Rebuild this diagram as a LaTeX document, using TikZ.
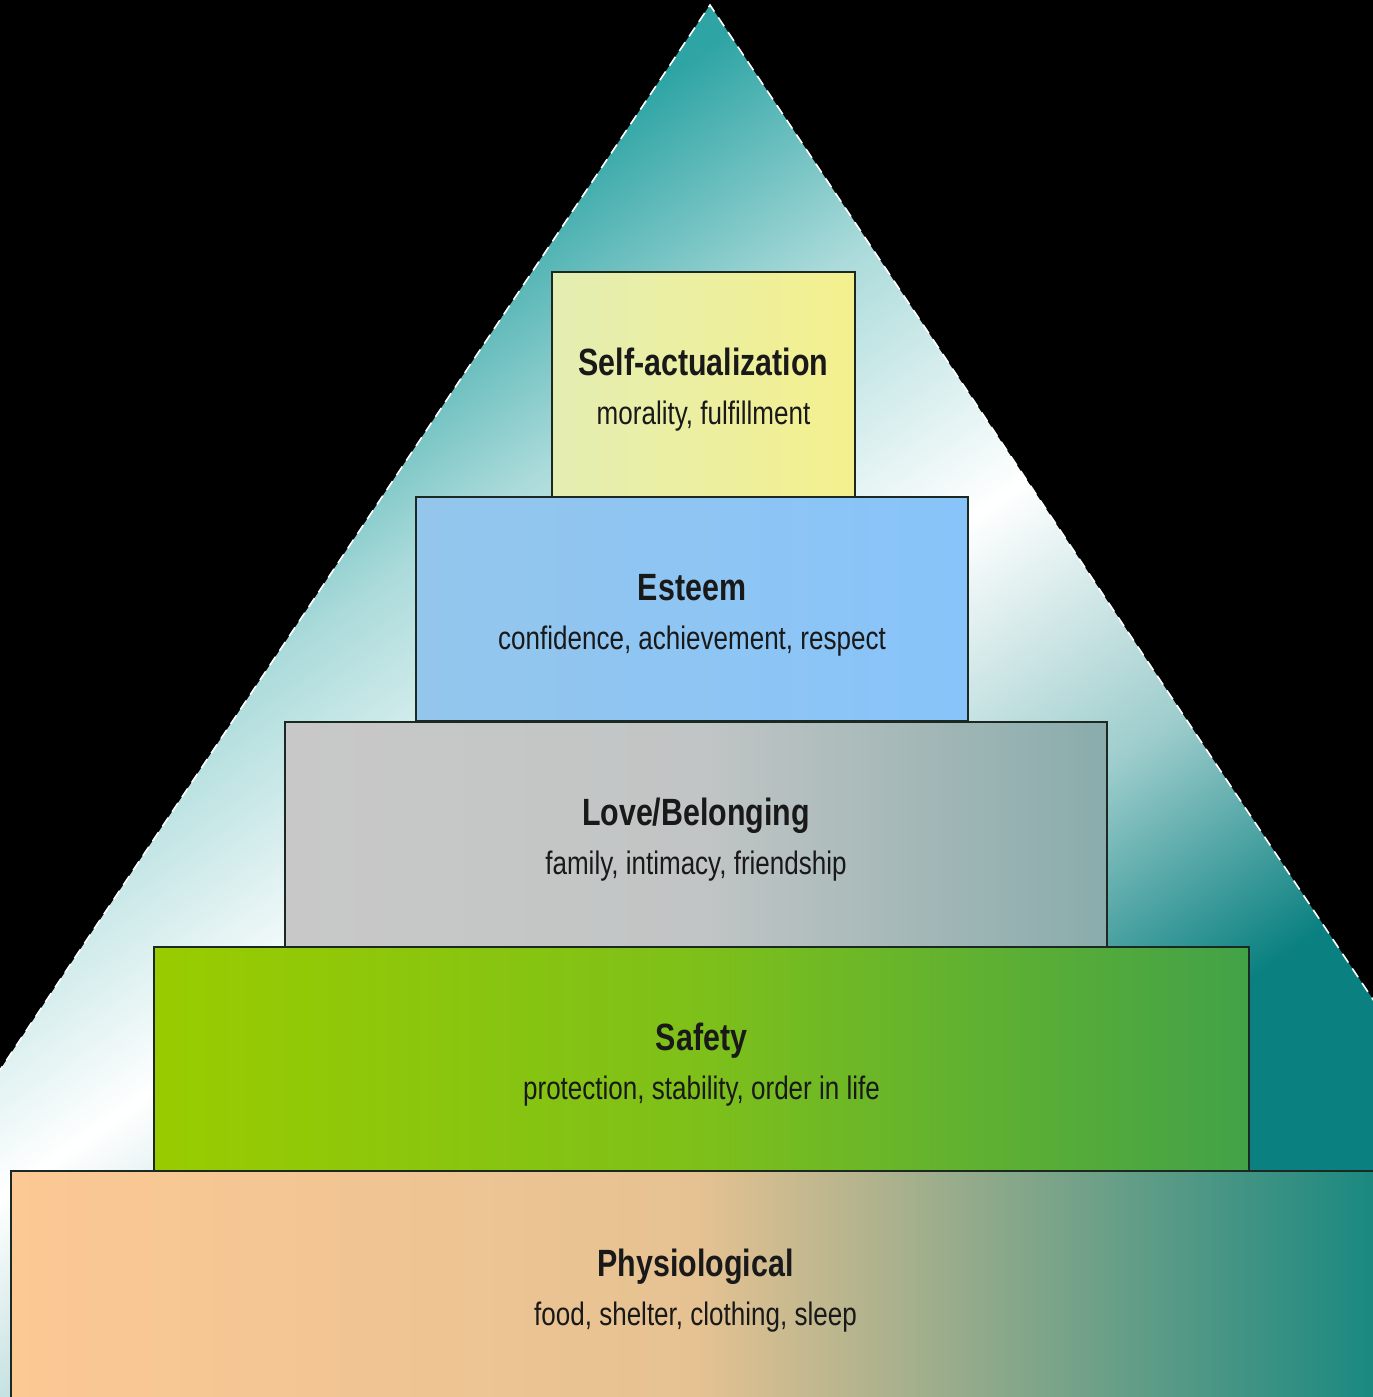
\documentclass[tikz,border=0pt]{standalone}
\usepackage{fontspec}
\usepackage{xcolor}
\usepackage{tikz}
\usetikzlibrary{backgrounds}
\newfontfamily\pyrfont[FakeStretch=0.8]{Liberation Sans}
\definecolor{tealtop}{RGB}{46,164,164}
\definecolor{tealbot}{RGB}{10,128,128}
\definecolor{selfA}{RGB}{228,238,178}
\definecolor{selfB}{RGB}{244,240,142}
\definecolor{esteemA}{RGB}{148,198,236}
\definecolor{esteemB}{RGB}{136,196,250}
\definecolor{loveA}{RGB}{200,200,200}
\definecolor{loveM}{RGB}{194,197,197}
\definecolor{loveB}{RGB}{138,172,172}
\definecolor{safeA}{RGB}{153,204,0}
\definecolor{safeM}{RGB}{126,192,26}
\definecolor{safeB}{RGB}{66,162,72}
\definecolor{physA}{RGB}{252,200,148}
\definecolor{physM}{RGB}{230,194,146}
\definecolor{physB}{RGB}{24,136,128}
\definecolor{edge}{RGB}{28,40,34}
\pgfdeclareverticalshading{pyrbg}{100bp}{color(0bp)=(tealbot); color(33bp)=(tealbot); color(41bp)=(tealbot!40!white); color(50bp)=(white); color(59bp)=(tealtop!40!white); color(67bp)=(tealtop); color(100bp)=(tealtop)}
\tikzstyle{level} = [rectangle, draw=edge, line width=0.6pt, align=center, text=black!90, font=\pyrfont, inner sep=0pt]
\newcommand{\lvltext}[2]{{\fontsize{10.8}{13}\selectfont\bfseries\rule{0pt}{10.9pt}#1}\\[2.0pt]{\fontsize{9.25}{11}\selectfont #2}}

\begin{document}
\begin{tikzpicture}
    [x=0.01cm,y=0.01cm]
      \useasboundingbox (0,0) rectangle (1373,1397);
      \fill [black] (0,0) rectangle (1373,1397);
      \coordinate (apex) at (710,1392);
      \coordinate (bl) at (-218,0);
      \coordinate (br) at (1638,0);
      \begin{scope}
        \clip (0,0) rectangle (1373,1397);
        \shade [shading=pyrbg, shading angle=35] (apex) -- (bl) -- (br) -- cycle;
        \draw [white, densely dashed, line width=0.45pt] (bl) -- (apex) -- (br);
      \end{scope}

      \node [level, left color=selfA, right color=selfB, minimum width=3.03cm, minimum height=2.25cm](self) at (703.5,1012.5) {\lvltext{Self-actualization}{morality, fulfillment}};
      \node [level, left color=esteemA, right color=esteemB, minimum width=5.51cm, minimum height=2.24cm](esteem) at (692,788) {\lvltext{Esteem}{confidence, achievement, respect}};
      \node [level, left color=loveA, right color=loveB, middle color=loveM, minimum width=8.21cm, minimum height=2.25cm](love) at (696,562.5) {\lvltext{Love/Belonging}{family, intimacy, friendship}};
      \node [level, left color=safeA, right color=safeB, middle color=safeM, minimum width=10.95cm, minimum height=2.24cm](safety) at (701.5,338) {\lvltext{Safety}{protection, stability, order in life}};
      \node [level, left color=physA, right color=physB, middle color=physM, minimum width=13.69cm, minimum height=2.28cm](physio) at (695.5,112) {\lvltext{Physiological}{food, shelter, clothing, sleep}};

    \end{tikzpicture}
\end{document}
